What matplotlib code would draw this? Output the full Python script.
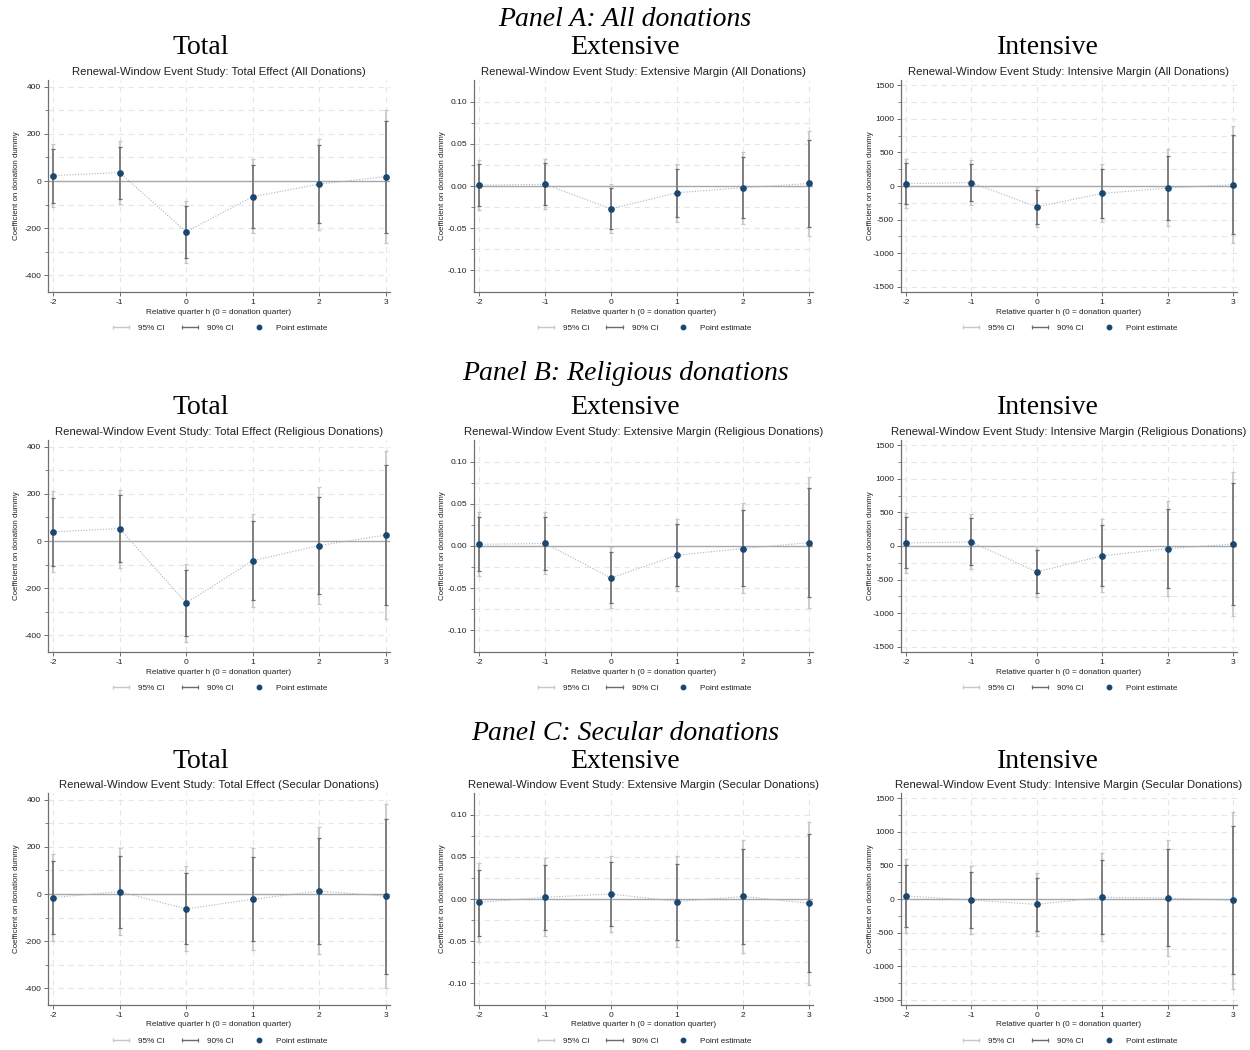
import numpy as np
import matplotlib
matplotlib.use("Agg")
import matplotlib.pyplot as plt
from matplotlib.lines import Line2D
from matplotlib.legend_handler import HandlerLine2D
from matplotlib.ticker import FixedLocator

plt.rcParams['font.family'] = ['Liberation Sans', 'DejaVu Sans']
plt.rcParams['axes.unicode_minus'] = False

quarters = [-2, -1, 0, 1, 2, 3]

# --- Panel A: all donations ---
all_total = [23, 36, -215, -66, -13, 19]
all_total_ci90 = [(-91, 137), (-77, 146), (-327, -105), (-197, 66), (-176, 152), (-218, 255)]
all_total_ci95 = [(-112, 158), (-97, 168), (-348, -85), (-219, 92), (-208, 180), (-262, 300)]

all_ext = [0.001, 0.002, -0.027, -0.008, -0.002, 0.003]
all_ext_ci90 = [(-0.024, 0.026), (-0.022, 0.027), (-0.051, -0.002), (-0.037, 0.020), (-0.038, 0.034), (-0.049, 0.055)]
all_ext_ci95 = [(-0.029, 0.031), (-0.027, 0.032), (-0.056, 0.002), (-0.043, 0.026), (-0.045, 0.041), (-0.059, 0.065)]

all_int = [35, 50, -310, -110, -30, 20]
all_int_ci90 = [(-270, 340), (-230, 330), (-560, -60), (-470, 255), (-505, 450), (-715, 760)]
all_int_ci95 = [(-330, 400), (-280, 385), (-610, -10), (-540, 325), (-600, 545), (-850, 895)]

# --- Panel B: religious donations ---
rel_total = [39, 53, -262, -83, -19, 26]
rel_total_ci90 = [(-104, 181), (-90, 193), (-401, -123), (-248, 84), (-226, 188), (-272, 324)]
rel_total_ci95 = [(-133, 212), (-115, 218), (-427, -98), (-280, 113), (-265, 227), (-330, 380)]

rel_ext = [0.002, 0.003, -0.038, -0.011, -0.003, 0.004]
rel_ext_ci90 = [(-0.030, 0.034), (-0.028, 0.034), (-0.068, -0.007), (-0.047, 0.026), (-0.047, 0.043), (-0.061, 0.069)]
rel_ext_ci95 = [(-0.036, 0.040), (-0.033, 0.040), (-0.074, -0.001), (-0.054, 0.032), (-0.056, 0.051), (-0.074, 0.082)]

rel_int = [45, 60, -385, -145, -40, 30]
rel_int_ci90 = [(-325, 425), (-280, 410), (-705, -65), (-595, 310), (-630, 550), (-870, 935)]
rel_int_ci95 = [(-400, 495), (-340, 475), (-765, -5), (-680, 395), (-740, 665), (-1035, 1100)]

# --- Panel C: secular donations ---
sec_total = [-15, 10, -63, -22, 13, -9]
sec_total_ci90 = [(-170, 140), (-145, 163), (-213, 88), (-201, 159), (-213, 239), (-337, 319)]
sec_total_ci95 = [(-200, 170), (-175, 193), (-242, 118), (-237, 194), (-256, 282), (-400, 380)]

sec_ext = [-0.004, 0.002, 0.006, -0.003, 0.003, -0.005]
sec_ext_ci90 = [(-0.044, 0.035), (-0.037, 0.041), (-0.032, 0.044), (-0.049, 0.042), (-0.054, 0.059), (-0.087, 0.077)]
sec_ext_ci95 = [(-0.051, 0.043), (-0.044, 0.049), (-0.039, 0.051), (-0.057, 0.051), (-0.064, 0.070), (-0.102, 0.092)]

sec_int = [45, -15, -80, 25, 15, -20]
sec_int_ci90 = [(-420, 500), (-435, 400), (-470, 310), (-525, 575), (-705, 740), (-1120, 1080)]
sec_int_ci95 = [(-505, 590), (-515, 485), (-545, 380), (-630, 680), (-840, 875), (-1330, 1290)]

panels = [
    ("Panel A: All donations", "All Donations",
     [(all_total, all_total_ci90, all_total_ci95),
      (all_ext, all_ext_ci90, all_ext_ci95),
      (all_int, all_int_ci90, all_int_ci95)]),
    ("Panel B: Religious donations", "Religious Donations",
     [(rel_total, rel_total_ci90, rel_total_ci95),
      (rel_ext, rel_ext_ci90, rel_ext_ci95),
      (rel_int, rel_int_ci90, rel_int_ci95)]),
    ("Panel C: Secular donations", "Secular Donations",
     [(sec_total, sec_total_ci90, sec_total_ci95),
      (sec_ext, sec_ext_ci90, sec_ext_ci95),
      (sec_int, sec_int_ci90, sec_int_ci95)]),
]

columns = ["Total", "Extensive", "Intensive"]
measure_names = ["Total Effect", "Extensive Margin", "Intensive Margin"]
# y range, major step, largest labelled tick, tick format
yscales = [
    ((-470, 428), 200, 400, "{:.0f}"),
    ((-0.126, 0.126), 0.05, 0.10, "{:.2f}"),
    ((-1575, 1575), 500, 1500, "{:.0f}"),
]

NAVY = '#1a476f'
CI95 = '#c6c6c6'
CI90 = '#6a6a6a'
LINE = '#a3b5c8'
GRID = '#e6e6e6'
AXIS = '#707070'
TEXT = '#222222'

W, H = 1250, 1050
fig = plt.figure(figsize=(W / 100, H / 100), dpi=100)

col_left = [48, 474, 901]
col_right = [390, 813, 1237]
row_top = [80, 440, 793]
row_bottom = [292, 652, 1005]
panel_y = [20, 374, 734]
head_y = [48, 408, 762]
head_x = [201, 625, 1048]


def px_axes(l, t, r, b):
    return fig.add_axes([l / W, 1 - b / H, (r - l) / W, (b - t) / H])


class RightDot(HandlerLine2D):
    """Legend handler that puts the single marker near the right of the key."""
    def get_xdata(self, legend, xdescent, ydescent, width, height, fontsize):
        xdata, _ = super().get_xdata(legend, xdescent, ydescent, width, height, fontsize)
        return xdata, np.array([width - xdescent - 0.4 * fontsize])


def draw_study(ax, coef, ci90, ci95, yscale):
    (ylo, yhi), major, top, fmt = yscale
    coef = np.array(coef, dtype=float)
    lo90, hi90 = np.array(ci90, dtype=float).T
    lo95, hi95 = np.array(ci95, dtype=float).T

    ax.set_xlim(-2.075, 3.06)
    ax.set_ylim(ylo, yhi)
    ax.set_xticks(quarters)
    ax.set_xticklabels([str(q) for q in quarters])
    majors = np.linspace(-top, top, int(round(2 * top / major)) + 1)
    minors = (majors[:-1] + majors[1:]) / 2
    ax.yaxis.set_major_locator(FixedLocator(majors))
    ax.yaxis.set_minor_locator(FixedLocator(minors))
    ax.set_yticklabels([fmt.format(round(v, 4) + 0.0) for v in majors])

    ax.grid(axis='y', which='both', color=GRID, ls=(0, (5, 4)), lw=0.8, zorder=0)
    ax.grid(axis='x', which='major', color=GRID, ls=(0, (5, 4)), lw=0.8, zorder=0)
    ax.set_axisbelow(True)
    ax.axhline(0, color='#a8a8a8', lw=1.0, zorder=1)

    ax.plot(quarters, coef, ls=(0, (1, 1.5)), color=LINE, lw=0.8, zorder=2)
    ax.errorbar(quarters, coef, yerr=[coef - lo95, hi95 - coef], fmt='none',
                ecolor=CI95, elinewidth=1.2, capsize=1.6, capthick=0.9, zorder=3)
    ax.errorbar(quarters, coef, yerr=[coef - lo90, hi90 - coef], fmt='none',
                ecolor=CI90, elinewidth=1.1, capsize=1.6, capthick=0.9, zorder=4)
    ax.plot(quarters, coef, 'o', color=NAVY, ms=3.8, mec=NAVY, zorder=5)

    for side in ('top', 'right'):
        ax.spines[side].set_visible(False)
    for side in ('left', 'bottom'):
        ax.spines[side].set_color(AXIS)
        ax.spines[side].set_linewidth(0.9)
    ax.tick_params(which='major', direction='out', length=3, width=0.7,
                   color=AXIS, labelsize=6.0, pad=2, labelcolor=TEXT)
    ax.tick_params(axis='y', which='minor', direction='out', length=2,
                   width=0.6, color=AXIS)
    ax.tick_params(axis='x', which='minor', length=0)


h95 = Line2D([0], [0], color=CI95, lw=1.0, marker='|', ms=3, mew=0.8)
h90 = Line2D([0], [0], color=CI90, lw=1.0, marker='|', ms=3, mew=0.8)
hpt = Line2D([0], [0], color=NAVY, lw=0, marker='o', ms=3.2)

for r, (panel_title, group, data) in enumerate(panels):
    fig.text(625 / W, 1 - panel_y[r] / H, panel_title, ha='center', va='center',
             family=['Liberation Serif', 'DejaVu Serif'], style='italic', fontsize=20)
    for c in range(3):
        fig.text(head_x[c] / W, 1 - head_y[r] / H, columns[c], ha='center',
                 va='center', family=['Liberation Serif', 'DejaVu Serif'], fontsize=20)

        ax = px_axes(col_left[c], row_top[r], col_right[c], row_bottom[r])
        coef, ci90, ci95 = data[c]
        draw_study(ax, coef, ci90, ci95, yscales[c])

        h_ax = row_bottom[r] - row_top[r]
        w_ax = col_right[c] - col_left[c]
        ax.text(0.5, 1 + 8 / h_ax,
                f"Renewal-Window Event Study: {measure_names[c]} ({group})",
                transform=ax.transAxes, ha='center', va='center',
                fontsize=8.2, color=TEXT)
        ax.text(0.5, -20 / h_ax, "Relative quarter h (0 = donation quarter)",
                transform=ax.transAxes, ha='center', va='center',
                fontsize=5.85, color=TEXT)
        ax.text(-31 / w_ax, 0.5, "Coefficient on donation dummy",
                transform=ax.transAxes, ha='center', va='center', rotation=90,
                fontsize=5.7, color=TEXT)

        leg = ax.legend([h95, h90, hpt], ["95% CI", "90% CI", "Point estimate"],
                        handler_map={h95: HandlerLine2D(numpoints=2),
                                     h90: HandlerLine2D(numpoints=2),
                                     hpt: RightDot(numpoints=1)},
                        loc='center', bbox_to_anchor=(0.5, -36 / h_ax),
                        ncol=3, frameon=False, fontsize=5.85,
                        handlelength=2.6, handletextpad=0.8, columnspacing=1.8)
        for t in leg.get_texts():
            t.set_color(TEXT)

fig.savefig("out.png", dpi=100, facecolor='white')
